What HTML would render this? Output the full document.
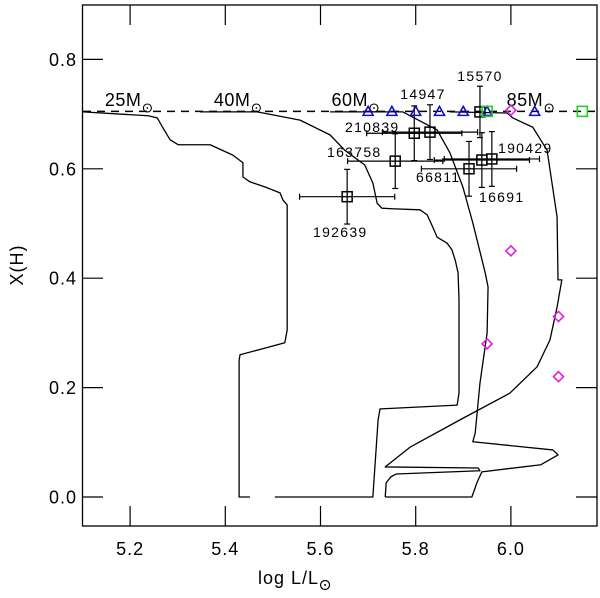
<!DOCTYPE html>
<html><head><meta charset="utf-8"><style>
html,body{margin:0;padding:0;background:#fff;}
svg text{font-family:"Liberation Sans",sans-serif;fill:#000;}
</style></head><body>
<svg id="chart" width="600" height="593" viewBox="0 0 600 593" xmlns="http://www.w3.org/2000/svg">
<rect x="82.5" y="5" width="514.5" height="521" fill="none" stroke="#000" stroke-width="1.3"/>
<g id="axes"></g>
<g id="tracks"></g>
<g id="marks"></g>
<text id="xtitle" x="258" y="584" font-size="18" letter-spacing="1">log L/L</text>
<g id="xsun"><circle id="xsunc" cx="337" cy="585" r="4.5" fill="none" stroke="#000" stroke-width="1.2"/><circle id="xsund" cx="337" cy="585" r="1" fill="#000"/></g>
<text transform="translate(23,265) rotate(-90)" font-size="18" text-anchor="middle" letter-spacing="1">X(H)</text>
</svg>
<script>
const xTicks=[5.2,5.4,5.6,5.8,6.0];
const yTicks=[0.0,0.2,0.4,0.6,0.8];
const zamsX=0.705;
const track25=[[5.101,0.704],[5.238,0.697],[5.257,0.693],[5.269,0.675],[5.284,0.653],[5.301,0.644],[5.368,0.644],[5.416,0.625],[5.437,0.611],[5.437,0.585],[5.452,0.576],[5.483,0.567],[5.515,0.556],[5.521,0.543],[5.530,0.534],[5.530,0.305],[5.525,0.282],[5.431,0.260],[5.429,0.250],[5.429,0],[5.452,0]];
const track40=[[5.347,0.704],[5.467,0.704],[5.557,0.689],[5.620,0.662],[5.651,0.634],[5.693,0.607],[5.710,0.574],[5.719,0.537],[5.729,0.528],[5.750,0.527],[5.809,0.525],[5.824,0.516],[5.834,0.497],[5.845,0.475],[5.866,0.464],[5.876,0.452],[5.883,0.433],[5.889,0.410],[5.891,0.360],[5.891,0.190],[5.887,0.168],[5.725,0.161],[5.721,0.141],[5.710,0],[5.504,0]];
const track60=[[5.620,0.704],[5.773,0.704],[5.845,0.671],[5.872,0.629],[5.899,0.567],[5.920,0.501],[5.946,0.410],[5.952,0.384],[5.950,0.300],[5.935,0.208],[5.925,0.117],[5.920,0.101],[6.088,0.086],[6.099,0.077],[6.063,0.059],[5.939,0.046],[5.929,0.027],[5.918,0],[5.736,0]];
const track85=[[5.872,0.704],[5.992,0.702],[6.004,0.693],[6.046,0.676],[6.076,0.634],[6.097,0.512],[6.099,0.397],[6.107,0.397],[6.097,0.347],[6.082,0.287],[6.055,0.238],[5.998,0.190],[5.893,0.141],[5.788,0.091],[5.736,0.055],[5.931,0.053],[5.935,0.048],[5.759,0.042],[5.748,0.037],[5.738,0.026],[5.736,0]];
const starNames=["15570","14947","210839","163758","192639","66811","16691","190429"];
const starL=[5.935,5.830,5.797,5.757,5.656,5.912,5.939,5.960];
const starX=[0.704,0.667,0.665,0.614,0.549,0.600,0.616,0.618];
const starLerr=[0,0.1,0.1,0.1,0.1,0.1,0.1,0.1];
const starXerr=[0.047,0.05,0.05,0.05,0.05,0.05,0.05,0.05];
const triL=[5.70,5.75,5.80,5.85,5.90,5.95,6.05];
const triX=[0.705,0.705,0.705,0.705,0.705,0.705,0.705];
const greenL=[5.95,6.15];
const greenX=[0.705,0.705];
const diaL=[6.00,6.00,5.95,6.10,6.10];
const diaX=[0.707,0.45,0.28,0.33,0.22];
const massLabels=["25M","40M","60M","85M"];
const massLabelL=[5.147,5.376,5.623,5.991];

const NS="http://www.w3.org/2000/svg";
function sx(v){return 82.5+(v-5.1)*476;}
function sy(v){return 497-v*547;}
function mk(tag,attrs,parent){const e=document.createElementNS(NS,tag);for(const k in attrs)e.setAttribute(k,attrs[k]);parent.appendChild(e);return e;}
const axes=document.getElementById('axes'),tracks=document.getElementById('tracks'),marks=document.getElementById('marks');
xTicks.forEach(t=>{
  const x=sx(t);
  let a=mk('line',{x1:x,x2:x,y1:526,y2:506,stroke:'#000','stroke-width':1.2},axes);
  
  
  let b=mk('line',{x1:x,x2:x,y1:5,y2:25,stroke:'#000','stroke-width':1.2},axes);
  
  
  let l=mk('text',{x:x,y:555,'font-size':18,'text-anchor':'middle','letter-spacing':1},axes);
  l.textContent=t.toFixed(1);
  
  
});
yTicks.forEach(t=>{
  const y=sy(t);
  let a=mk('line',{x1:82.5,x2:103,y1:y,y2:y,stroke:'#000','stroke-width':1.2},axes);
  
  
  let b=mk('line',{x1:597,x2:576,y1:y,y2:y,stroke:'#000','stroke-width':1.2},axes);
  
  
  let l=mk('text',{x:77,y:y+6.5,'font-size':18,'text-anchor':'end','letter-spacing':1},axes);
  l.textContent=t.toFixed(1);
  
  
});
let dl=mk('line',{x1:83,x2:596,y1:sy(zamsX),y2:sy(zamsX),stroke:'#000','stroke-width':1.5,'stroke-dasharray':'8,6'},tracks);


[[track25,'track-25msun'],[track40,'track-40msun'],[track60,'track-60msun'],[track85,'track-85msun']].forEach(([tr,nm])=>{
  let p=mk('polyline',{points:tr.map(q=>sx(q[0])+','+sy(q[1])).join(' '),fill:'none',stroke:'#000','stroke-width':1.3,'stroke-linejoin':'round'},tracks);
  
  
});
massLabels.forEach((m,i)=>{
  const x=sx(massLabelL[i]);
  let t=mk('text',{x:x,y:106,'font-size':18,'letter-spacing':0.5},marks);
  t.textContent=m;
  
  
  let w=44; try{w=t.getComputedTextLength();}catch(e){}
  const cx=x+w+6;
  mk('circle',{cx:cx,cy:108,r:4,fill:'none',stroke:'#000','stroke-width':1.1},marks);
  mk('circle',{cx:cx,cy:108,r:0.9,fill:'#000'},marks);
});
(function(){
  const xt=document.getElementById('xtitle');
  let w=74; try{w=xt.getComputedTextLength();}catch(e){}
  const cx=258+w+6;
  document.getElementById('xsunc').setAttribute('cx',cx);
  document.getElementById('xsund').setAttribute('cx',cx);
})();
const labelPos=[[480,81,'middle'],[423,99,'middle'],[345,132,'start'],[327,157,'start'],[313,237,'start'],[416,182,'start'],[479,202,'start'],[498,153,'start']];
starNames.forEach((n,i)=>{
  const x=sx(starL[i]),y=sy(starX[i]);
  const g=mk('g',{},marks);
  
  
  if(starLerr[i]>0){
    const x1=sx(starL[i]-starLerr[i]),x2=sx(starL[i]+starLerr[i]);
    mk('line',{x1:x1,x2:x2,y1:y,y2:y,stroke:'#000','stroke-width':1.2},g);
    mk('line',{x1:x1,x2:x1,y1:y-3,y2:y+3,stroke:'#000','stroke-width':1.2},g);
    mk('line',{x1:x2,x2:x2,y1:y-3,y2:y+3,stroke:'#000','stroke-width':1.2},g);
  }
  const y1=sy(starX[i]+starXerr[i]),y2=sy(starX[i]-starXerr[i]);
  mk('line',{x1:x,x2:x,y1:y1,y2:y2,stroke:'#000','stroke-width':1.2},g);
  mk('line',{x1:x-3,x2:x+3,y1:y1,y2:y1,stroke:'#000','stroke-width':1.2},g);
  mk('line',{x1:x-3,x2:x+3,y1:y2,y2:y2,stroke:'#000','stroke-width':1.2},g);
  mk('rect',{x:x-5,y:y-5,width:10,height:10,fill:'none',stroke:'#000','stroke-width':1.5},g);
  mk('line',{x1:x-5,x2:x+5,y1:y,y2:y,stroke:'#000','stroke-width':1},g);
  mk('line',{x1:x,x2:x,y1:y-5,y2:y+5,stroke:'#000','stroke-width':1},g);
  const lp=labelPos[i];
  let t=mk('text',{x:lp[0],y:lp[1],'font-size':14,'text-anchor':lp[2],'letter-spacing':1.3},marks);
  t.textContent=n;
  
  
});
triL.forEach((v,i)=>{
  const x=sx(v),y=sy(triX[i]);
  let p=mk('polygon',{points:`${x-5},${y+4} ${x+5},${y+4} ${x},${y-5}`,fill:'none',stroke:'#1010c8','stroke-width':1.6},marks);
  
  
});
greenL.forEach((v,i)=>{
  const x=sx(v),y=sy(greenX[i]);
  let p=mk('rect',{x:x-5,y:y-5,width:10,height:10,fill:'none',stroke:'#22d022','stroke-width':1.6},marks);
  
  
});
diaL.forEach((v,i)=>{
  const x=sx(v),y=sy(diaX[i]);
  let p=mk('polygon',{points:`${x},${y-5} ${x+5},${y} ${x},${y+5} ${x-5},${y}`,fill:'none',stroke:'#e020e0','stroke-width':1.6},marks);
  
  
});
</script>
</body></html>
